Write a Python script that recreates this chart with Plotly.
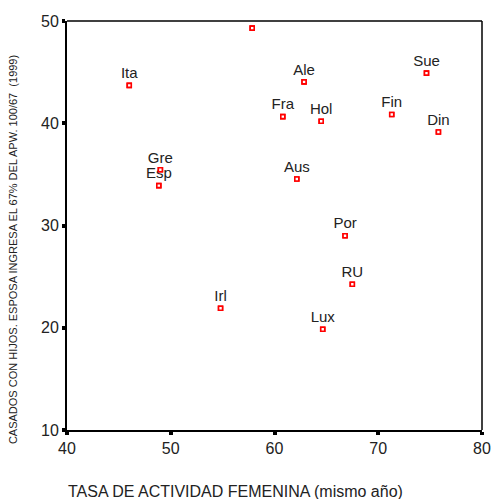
import plotly.graph_objects as go

# Female activity rate vs. share of married couples with children (1999)
paises = ["Ita", "Gre", "Esp", "", "Ale", "Fra", "Hol", "Sue", "Fin", "Din",
          "Aus", "Por", "Irl", "RU", "Lux"]
actividad = [46.0, 49.0, 48.85, 57.85, 62.85, 60.8, 64.5, 74.65, 71.3, 75.8,
             62.15, 66.8, 54.8, 67.5, 64.65]
casados = [43.7, 35.45, 33.9, 49.3, 44.05, 40.65, 40.2, 44.9, 40.85, 39.15,
           34.55, 29.0, 21.9, 24.25, 19.85]

x_ticks = [40, 50, 60, 70, 80]
y_ticks = [10, 20, 30, 40, 50]

font = "Liberation Sans, Arial, sans-serif"
marker_style = dict(symbol="square", size=4, color="white",
                    line=dict(color="#ff0000", width=1.6))

fig = go.Figure()

# labels (with markers underneath)
fig.add_trace(go.Scatter(
    x=actividad, y=casados, mode="markers+text", text=paises,
    textposition="top center",
    textfont=dict(family=font, size=15, color="#222222"),
    marker=marker_style,
    hoverinfo="skip", showlegend=False, cliponaxis=False,
))
# markers redrawn above the labels
fig.add_trace(go.Scatter(
    x=actividad, y=casados, mode="markers", marker=marker_style,
    showlegend=False, cliponaxis=False,
))

axis_common = dict(
    showgrid=False, zeroline=False, showline=True, linecolor="black",
    linewidth=2, ticks="outside", ticklen=3, tickwidth=4, tickcolor="black",
    tickfont=dict(family=font, size=16, color="#222222"),
    automargin=False,
)

fig.update_xaxes(range=[40, 80], tickvals=x_ticks, mirror=False, **axis_common)
fig.update_yaxes(range=[10, 50], tickvals=y_ticks, mirror=False, **axis_common)

# thinner top and right border
fig.add_shape(type="line", xref="paper", yref="paper", x0=0, x1=1, y0=1, y1=1,
              line=dict(color="black", width=1.5))
fig.add_shape(type="line", xref="paper", yref="paper", x0=1, x1=1, y0=0, y1=1,
              line=dict(color="black", width=1.5))

fig.add_annotation(
    text="TASA DE ACTIVIDAD FEMENINA (mismo año)",
    xref="paper", yref="paper", x=-0.002, y=-0.15, xanchor="left", yanchor="middle",
    showarrow=False, font=dict(family=font, size=16, color="#222222"),
)
fig.add_annotation(
    text="CASADOS CON HIJOS. ESPOSA INGRESA EL 67% DEL APW. 100/67  (1999)",
    xref="paper", yref="paper", x=-0.13, y=0.44, xanchor="center", yanchor="middle",
    textangle=-90, showarrow=False,
    font=dict(family=font, size=11, color="#222222"),
)

fig.update_layout(
    width=493, height=499,
    margin=dict(l=67, r=11, t=21, b=69),
    plot_bgcolor="white", paper_bgcolor="white",
)

fig.write_html("out.html")
